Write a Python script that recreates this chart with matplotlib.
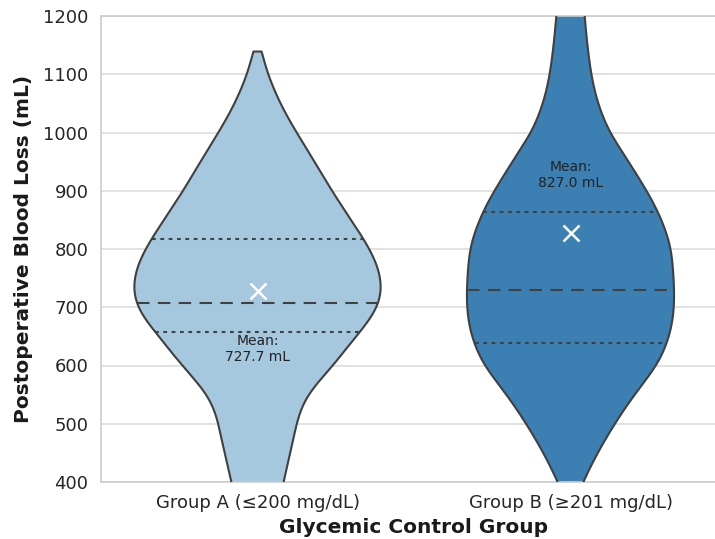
import numpy as np
import matplotlib.pyplot as plt

# category labels
groups = ["Group A (≤200 mg/dL)", "Group B (≥201 mg/dL)"]
colors = ["#a5c8de", "#3c7fb3"]

# violin outlines: blood loss level (mL) and half width (category units)
a_levels = [385, 403, 455, 501, 529, 558, 601, 632, 658, 678, 708, 735, 770, 801, 818, 856, 901, 953, 1004, 1044, 1102, 1125, 1139]
a_half = [0.077, 0.085, 0.107, 0.125, 0.138, 0.168, 0.245, 0.288, 0.326, 0.362, 0.393, 0.400, 0.387, 0.358, 0.339, 0.291, 0.236, 0.179, 0.120, 0.077, 0.030, 0.021, 0.013]

b_levels = [385, 403, 455, 501, 546, 604, 638, 667, 701, 730, 801, 827, 864, 901, 936, 970, 1001, 1039, 1067, 1102, 1153, 1200, 1215]
b_half = [0.029, 0.042, 0.091, 0.142, 0.198, 0.283, 0.309, 0.325, 0.332, 0.332, 0.323, 0.308, 0.281, 0.243, 0.202, 0.162, 0.122, 0.094, 0.078, 0.065, 0.053, 0.045, 0.043]

# quartiles (q1, median, q3) and means
quartiles = [[658, 708, 818], [638, 730, 864]]
means = [727.7, 827.0]


def smooth_outline(lv, hw, n=600, sigma=22.0):
    # dense linear outline, then a gaussian blur so the read points give a smooth edge
    yy = np.linspace(lv[0], lv[-1], n)
    ww = np.interp(yy, lv, hw)
    step = yy[1] - yy[0]
    r = int(3 * sigma / step)
    kern = np.exp(-0.5 * (np.arange(-r, r + 1) * step / sigma) ** 2)
    kern /= kern.sum()
    pad = np.concatenate([2 * ww[0] - ww[r:0:-1], ww, 2 * ww[-1] - ww[-2:-r - 2:-1]])
    return yy, np.convolve(pad, kern, mode="valid")


plt.rcParams['font.family'] = 'DejaVu Sans'
fig = plt.figure(figsize=(7.15, 5.39), dpi=100)
ax = fig.add_axes([101 / 715, 57 / 539, 626 / 715, 466 / 539])

for i, (lv, hw) in enumerate([(a_levels, a_half), (b_levels, b_half)]):
    yy, ww = smooth_outline(lv, hw)
    ax.fill_betweenx(yy, i - ww, i + ww, facecolor=colors[i], edgecolor="none", zorder=2)
    ox = np.concatenate([i - ww, (i + ww)[::-1], [i - ww[0]]])
    oy = np.concatenate([yy, yy[::-1], [yy[0]]])
    ax.plot(ox, oy, color="#404040", lw=1.5, zorder=3, solid_joinstyle="round")

    for k, q in enumerate(quartiles[i]):
        w = np.interp(q, yy, ww)
        if k == 1:
            ax.plot([i - w, i + w], [q, q], color="#404040", lw=1.5,
                    dashes=(6, 4), zorder=3)
        else:
            ax.plot([i - w, i + w], [q, q], color="#404040", lw=1.5,
                    dashes=(1.8, 2.2), zorder=3)

    ax.plot(i, means[i], marker="x", color="white", markersize=12,
            markeredgewidth=1.8, zorder=4)
    off = -100 if i == 0 else 100
    ax.text(i, means[i] + off, f"Mean:\n{means[i]:.1f} mL", ha="center",
            va="center", fontsize=10, color="#222222", zorder=4)

ax.set_xlim(-0.5, 1.5)
ax.set_ylim(400, 1200)
ax.set_yticks(np.arange(400, 1201, 100))
ax.set_xticks([0, 1])
ax.set_xticklabels(groups)
ax.tick_params(axis="both", labelsize=13, length=0, colors="#262626", pad=9)
ax.yaxis.grid(True, color="#dddddd", lw=1.2, zorder=0)
ax.set_axisbelow(True)
for s in ax.spines.values():
    s.set_color("#cccccc")
    s.set_linewidth(1.2)

ax.set_xlabel("Glycemic Control Group", fontsize=14.5, fontweight="bold", labelpad=4, color="#1a1a1a")
ax.set_ylabel("Postoperative Blood Loss (mL)", fontsize=14.5, fontweight="bold", labelpad=7, color="#1a1a1a")

fig.savefig("out.png", dpi=100)
